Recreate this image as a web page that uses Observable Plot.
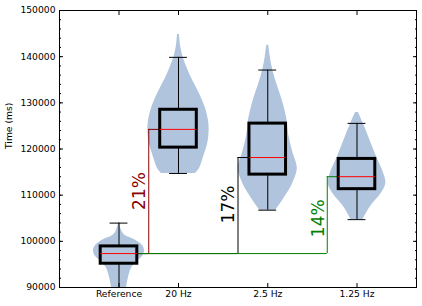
<!DOCTYPE html>
<html><head><meta charset="utf-8">
<script src="https://cdn.jsdelivr.net/npm/d3@7"></script>
<script src="https://cdn.jsdelivr.net/npm/@observablehq/plot@0.6"></script>
<style>body{margin:0;background:#fff}</style>
</head><body><div id="chart"></div>
<script>
const categories = ["Reference", "20 Hz", "2.5 Hz", "1.25 Hz"];
const positions = [1, 5/3, 8/3, 11/3];
const q1 = [95150, 120300, 114450, 111300];
const medians = [97350, 124250, 118150, 114000];
const q3 = [98900, 128500, 125500, 117850];
const whiskerLow = [88000, 114700, 106750, 104700];
const whiskerHigh = [103950, 139850, 137100, 125550];

// violin outlines: [time, relative density]
const violinRef = [[85000,0.5],[86500,3],[88000,5.5],[90000,7.5],[92200,9.5],[94400,13],[95800,19],[96900,24],[98000,25.5],[99100,23.5],[100200,17],[101300,6],[102400,2.5],[103950,0.5]];
const violin20 = [[114700,17],[115800,21],[117900,24.5],[121500,29.5],[125150,30.5],[128800,27],[132400,20],[136000,11.7],[139600,5],[142500,2],[144800,1]];
const violin25 = [[106750,8],[109250,16],[112100,24],[115750,29.5],[119350,25],[123000,21],[126600,19],[130200,15],[133800,9.5],[137100,5],[140000,2.5],[142500,1]];
const violin125 = [[104700,6],[107400,13],[110300,24],[112500,28.8],[114700,26.7],[118300,19.5],[121900,13],[125500,6.3],[127900,1.5]];
const violins = [violinRef, violin20, violin25, violin125];

const pctLabels = ["21%", "17%", "14%"];
const pctColors = ["darkred", "black", "green"];
const pctLabelY = [110900, 108000, 105000];

const yTicks = d3.range(90000, 150001, 10000);
const yMinor = d3.range(90000, 150001, 2000);

const violinRows = violins.flatMap((v, i) => v.map(([t, d]) => ({cat: categories[i], pos: positions[i], t, d})));
const densityScale = 1 / 89.25;
const boxHalf = 0.205;
const capHalf = 0.1;

const boxes = categories.map((c, i) => ({cat: c, pos: positions[i], q1: q1[i], med: medians[i], q3: q3[i], lo: whiskerLow[i], hi: whiskerHigh[i]}));
const annots = pctLabels.map((p, i) => ({
  label: p, color: pctColors[i], ax: positions[i + 1] - 1/3,
  base: medians[0], top: medians[i + 1], boxLeft: positions[i + 1] - boxHalf, ly: pctLabelY[i]
}));

const annotMarks = annots.flatMap(a => [
  Plot.ruleX([a], {x: "ax", y1: "base", y2: "top", stroke: a.color, strokeWidth: 1}),
  Plot.ruleY([a], {y: "base", x1: positions[0] + boxHalf, x2: "ax", stroke: a.color, strokeWidth: 1}),
  Plot.ruleY([a], {y: "top", x1: "ax", x2: "boxLeft", stroke: a.color, strokeWidth: 1})
]);

const chart = Plot.plot({
  width: 422, height: 306,
  marginLeft: 59, marginRight: 6, marginTop: 10, marginBottom: 19,
  x: {domain: [1/3, 13/3], axis: null},
  y: {domain: [90000, 150000], axis: null},
  style: {fontFamily: "DejaVu Sans", fontSize: "9.2px", background: "white", color: "black"},
  marks: [
    Plot.areaX(violinRows, {
      y: "t", z: "cat",
      x1: r => r.pos - r.d * densityScale,
      x2: r => r.pos + r.d * densityScale,
      fill: "#b0c4de", curve: "catmull-rom", clip: true
    }),
    ...annotMarks,
    Plot.ruleX(boxes, {x: "pos", y1: "lo", y2: "q1", stroke: "black", strokeWidth: 1, clip: true}),
    Plot.ruleX(boxes, {x: "pos", y1: "q3", y2: "hi", stroke: "black", strokeWidth: 1}),
    Plot.ruleY(boxes.filter(b => b.lo >= 90000), {y: "lo", x1: b => b.pos - capHalf, x2: b => b.pos + capHalf, stroke: "black"}),
    Plot.ruleY(boxes, {y: "hi", x1: b => b.pos - capHalf, x2: b => b.pos + capHalf, stroke: "black"}),
    Plot.rect(boxes, {x1: b => b.pos - boxHalf, x2: b => b.pos + boxHalf, y1: "q1", y2: "q3", fill: "none", stroke: "black", strokeWidth: 3}),
    Plot.ruleY(boxes, {y: "med", x1: b => b.pos - boxHalf, x2: b => b.pos + boxHalf, stroke: "#ff0000", strokeWidth: 1}),
    Plot.text(annots, {x: "ax", y: "ly", text: "label", fill: "color", rotate: -90, dx: -9, fontSize: 17, lineAnchor: "middle", textAnchor: "middle"}),
    Plot.frame({stroke: "black"}),
    Plot.axisY({ticks: yTicks, tickSize: -4, tickPadding: 8, tickFormat: d => `${d}`, label: null}),
    Plot.axisY({ticks: yMinor, tickSize: -2, tickFormat: () => "", label: null}),
    Plot.axisY({anchor: "right", ticks: yTicks, tickSize: -4, tickFormat: () => "", label: null}),
    Plot.axisY({anchor: "right", ticks: yMinor, tickSize: -2, tickFormat: () => "", label: null}),
    Plot.axisX({ticks: positions, tickSize: -4, tickPadding: 7, tickFormat: d => categories[positions.indexOf(d)], label: null}),
    Plot.axisX({anchor: "top", ticks: positions, tickSize: -4, tickFormat: () => "", label: null}),
    Plot.text(["Time (ms)"], {frameAnchor: "left", text: d => d, rotate: -90, dx: -50})
  ]
});
document.getElementById("chart").appendChild(chart);
</script>
</body></html>
